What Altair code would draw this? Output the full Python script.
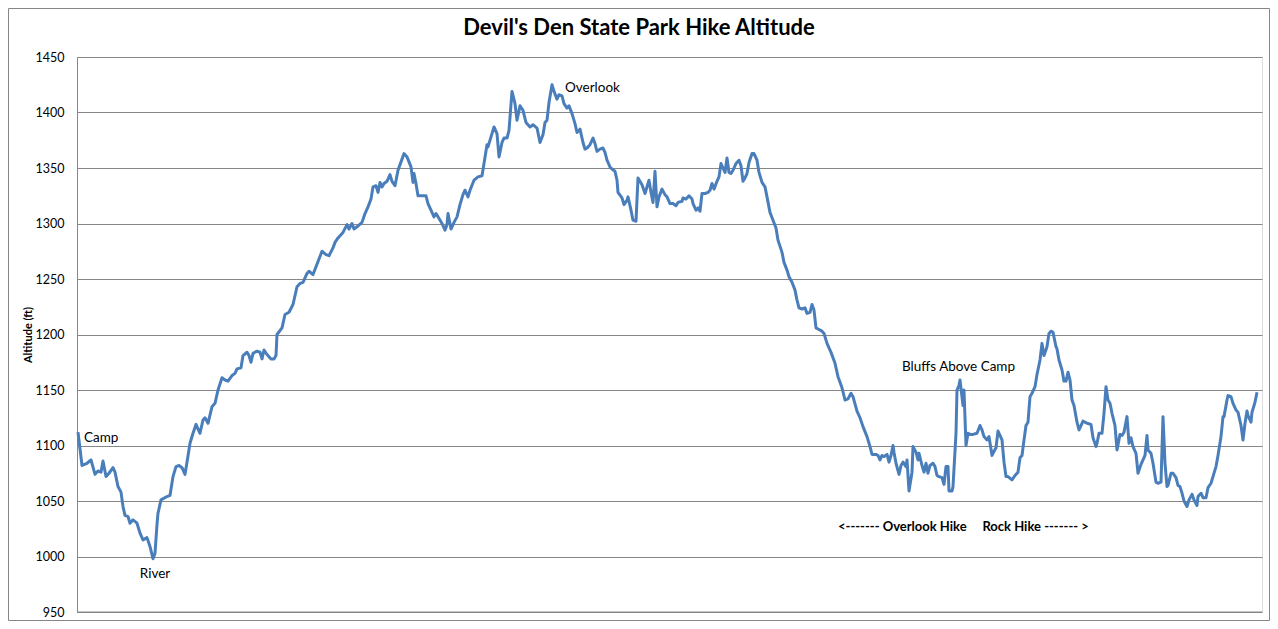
import altair as alt
import pandas as pd

# Distance along the trail (arbitrary units) and altitude (ft)
DIST = [0, 4, 9, 13, 17, 20, 23, 25, 28, 31, 35, 37, 40, 43, 45, 47, 50, 52, 55, 59, 62, 65, 69, 72, 75, 77, 79, 80, 83, 89, 92, 95, 98, 101, 104, 107, 109,
        112, 115, 118, 122, 125, 127, 130, 134, 137, 140, 144, 147, 150, 154, 157, 159, 163, 165, 169, 171, 173, 175, 179, 182, 184, 186, 189, 193, 196, 198, 199, 204, 207, 211, 215, 219, 222, 225, 229, 231, 235, 238, 241, 244, 248, 251, 255, 257, 260, 265, 269, 271, 274, 276, 279, 284, 287, 290, 293, 295, 298, 300, 302, 304, 306, 309, 312, 314, 317, 320, 324, 326, 329, 333, 335, 336, 338, 340, 345, 348, 350, 354, 356, 358, 360, 364, 367, 369, 370, 373, 376, 379, 382, 385, 387, 390, 392, 396, 400, 404, 406, 409, 410, 413, 416, 419, 421, 424, 426, 429, 431, 434, 437, 439, 442, 445, 448, 452, 455, 459, 462, 465, 467, 469, 471, 474, 476, 479, 481, 484, 486, 489, 491, 494, 497, 499, 502, 505, 507, 509, 512, 515, 517, 519, 522, 525, 527, 529, 532, 534, 537, 539, 540, 544, 546, 549, 550, 553, 555, 558, 560, 564, 567, 571, 573, 575, 577, 579, 581, 584, 587, 589, 592, 595, 598, 600, 604, 605, 608, 611, 614, 615, 618, 620, 622, 624, 627, 630, 632, 634, 636, 639, 641, 643, 645, 647, 649, 651, 653, 655, 658, 661, 663, 665, 667, 669, 671, 674, 676, 679, 681, 684, 687, 689, 692, 695, 698, 700, 704, 706, 709, 711, 714, 717, 719, 721, 724, 727, 729, 732, 734, 736, 738, 740, 744, 746, 749, 751, 753, 757, 760, 764, 767, 770, 773, 775, 779, 782, 785, 789, 792, 794, 798, 800, 802, 804, 806, 809, 811, 813, 815, 816, 818, 821, 823, 825, 828, 829, 831, 834, 835, 838, 840, 841, 844, 846, 848, 850, 852, 855, 857, 859, 861, 864, 866, 868, 870, 871, 874, 875, 878, 879, 881, 882, 885, 886, 888, 890, 892, 895, 899, 902, 904, 906, 909, 911, 914, 915, 918, 920, 924, 926, 928, 930, 934, 937, 940, 942, 944, 946, 948, 950, 952, 954, 957, 959, 962, 964, 966, 969, 971, 973, 975, 978, 979, 981, 984, 986, 988, 990, 992, 994, 996, 999, 1001, 1003, 1005, 1009, 1013, 1015, 1018, 1019, 1021, 1024, 1026, 1028, 1030, 1032, 1034, 1037, 1039, 1042, 1044, 1046, 1049, 1051, 1053, 1055, 1058, 1060, 1063, 1065, 1067, 1069, 1070, 1073, 1075, 1078, 1080, 1083, 1085, 1087, 1089, 1090, 1093, 1095, 1098, 1100, 1102, 1104, 1106, 1109, 1111, 1114, 1116, 1119, 1120, 1123, 1125, 1128, 1130, 1133, 1135, 1138, 1140, 1143, 1145, 1146, 1149, 1150, 1153, 1155, 1158, 1160, 1163, 1165, 1167, 1169, 1170, 1173, 1174, 1177, 1179, 1181]
ALT = [1112, 1082, 1084, 1087, 1074, 1077, 1076, 1086, 1072, 1075, 1080, 1076, 1063, 1058, 1045, 1037, 1036, 1030, 1033, 1030, 1021, 1015, 1017, 1009, 998, 1003, 1029, 1039, 1051, 1054, 1055, 1072, 1081, 1082, 1080, 1074, 1085,
       1102, 1111, 1119, 1111, 1123, 1125, 1120, 1135, 1138, 1150, 1161, 1159, 1158, 1163, 1165, 1169, 1170, 1181, 1184, 1181, 1175, 1183, 1185, 1184, 1178, 1186, 1182, 1178, 1178, 1181, 1200, 1206, 1218, 1220, 1227, 1243, 1246, 1247, 1255, 1257, 1254, 1261, 1268, 1275, 1272, 1271, 1278, 1283, 1287, 1292, 1299, 1295, 1300, 1295, 1297, 1301, 1309, 1315, 1322, 1333, 1334, 1328, 1337, 1333, 1336, 1338, 1344, 1338, 1334, 1348, 1358, 1363, 1360, 1351, 1337, 1345, 1336, 1325, 1325, 1325, 1318, 1310, 1306, 1309, 1306, 1300, 1294, 1299, 1309, 1295, 1301, 1306, 1317, 1326, 1330, 1324, 1330, 1339, 1342, 1343, 1354, 1371, 1369, 1378, 1387, 1381, 1360, 1373, 1377, 1377, 1384, 1419, 1408, 1393, 1406, 1402, 1391, 1387, 1389, 1386, 1373, 1380, 1391, 1393, 1409, 1425, 1419, 1412, 1416, 1415, 1408, 1404, 1406, 1399, 1390, 1382, 1385, 1373, 1367, 1368, 1371, 1377, 1372, 1365, 1367, 1368, 1364, 1357, 1351, 1349, 1347, 1339, 1328, 1323, 1317, 1321, 1324, 1312, 1303, 1302, 1341, 1335, 1327, 1339, 1328, 1319, 1347, 1315, 1324, 1331, 1326, 1324, 1318, 1318, 1316, 1319, 1320, 1323, 1322, 1325, 1322, 1318, 1312, 1314, 1311, 1327, 1327, 1328, 1330, 1336, 1331, 1338, 1342, 1354, 1350, 1346, 1359, 1346, 1345, 1348, 1354, 1357, 1352, 1338, 1341, 1345, 1355, 1363, 1363, 1357, 1346, 1337, 1333, 1324, 1310, 1303, 1296, 1285, 1274, 1265, 1258, 1252, 1247, 1240, 1231, 1224, 1223, 1224, 1219, 1220, 1227, 1222, 1206, 1205, 1203, 1201, 1192, 1188, 1184, 1174, 1162, 1152, 1141, 1142, 1147, 1144, 1131, 1125, 1117, 1108, 1099, 1092, 1092, 1091, 1087, 1091, 1090, 1092, 1085, 1091, 1100, 1094, 1084, 1074, 1082, 1085, 1081, 1087, 1059, 1076, 1099, 1094, 1087, 1093, 1082, 1076, 1084, 1075, 1082, 1084, 1081, 1073, 1072, 1071, 1065, 1081, 1081, 1059, 1059, 1063, 1111, 1150, 1154, 1159, 1136, 1150, 1100, 1111, 1110, 1110, 1111, 1118, 1114, 1108, 1105, 1108, 1091, 1093, 1098, 1113, 1105, 1085, 1072, 1072, 1069, 1073, 1076, 1089, 1091, 1105, 1118, 1121, 1144, 1147, 1153, 1164, 1177, 1192, 1181, 1189, 1201, 1203, 1202, 1189, 1187, 1177, 1168, 1158, 1158, 1166, 1159, 1141, 1136, 1121, 1114, 1118, 1122, 1120, 1119, 1107, 1099, 1102, 1111, 1111, 1129, 1153, 1141, 1138, 1129, 1118, 1096, 1110, 1109, 1112, 1126, 1102, 1107, 1099, 1093, 1075, 1083, 1087, 1091, 1109, 1096, 1093, 1084, 1067, 1066, 1067, 1126, 1084, 1063, 1064, 1075, 1075, 1071, 1064, 1063, 1057, 1050, 1045, 1051, 1056, 1051, 1046, 1054, 1057, 1053, 1053, 1062, 1066, 1072, 1081, 1091, 1108, 1126, 1126, 1141, 1145, 1144, 1138, 1132, 1130, 1118, 1105, 1120, 1131, 1127, 1121, 1130, 1139, 1148]

Y_TICKS = [950, 1000, 1050, 1100, 1150, 1200, 1250, 1300, 1350, 1400, 1450]

TITLE = "Devil's Den State Park Hike Altitude"

NOTE_TEXT = ["Camp", "Overlook", "Bluffs Above Camp"]
NOTE_X = [6, 487, 824]
NOTE_Y = [1107, 1422, 1171]

RIVER_TEXT = ["River"]
RIVER_X = [77]
RIVER_Y = [984]

NB = "\u00a0"
HIKE_TEXT = ["<-------" + NB + "Overlook" + NB + "Hike" + NB * 5 + "Rock" + NB + "Hike" + NB + "-------" + NB + ">"]
HIKE_X = [760]
HIKE_Y = [1027]

FONT = "Lato"
GRID = "#868686"
LINE = "#4a7ebb"

n = min(len(DIST), len(ALT))
df = pd.DataFrame({"dist": DIST[:n], "alt": ALT[:n]})
notes = pd.DataFrame({"label": NOTE_TEXT, "dist": NOTE_X, "alt": NOTE_Y})
river = pd.DataFrame({"label": RIVER_TEXT, "dist": RIVER_X, "alt": RIVER_Y})
hike = pd.DataFrame({"label": HIKE_TEXT, "dist": HIKE_X, "alt": HIKE_Y})
title_df = pd.DataFrame({"label": [TITLE]})

W, H = 1185, 555
PAD = {"left": 69, "top": 49, "right": 8, "bottom": 9}

xs = alt.Scale(domain=[-1, 1184], nice=False, zero=False)
ys = alt.Scale(domain=[950, 1450], nice=False, zero=False)

line = alt.Chart(df).mark_line(color=LINE, strokeWidth=3, strokeJoin="round").encode(
    x=alt.X("dist:Q", scale=xs, axis=None),
    y=alt.Y("alt:Q", scale=ys, axis=alt.Axis(
        values=Y_TICKS, format="d", title="Altitude (ft)", grid=True, gridColor=GRID, gridWidth=1,
        domainColor=GRID, domainWidth=1, ticks=False, labelPadding=13,
        labelFont=FONT, labelFontSize=12.5, labelColor="#000000",
        titleFont=FONT, titleFontSize=11, titleFontWeight="bold", titleColor="#000000",
        titleX=-49, titleY=H / 2, titleAngle=-90, titleAlign="center", titleBaseline="middle")),
)

bottom = alt.Chart(pd.DataFrame({"a": [950]})).mark_rule(color=GRID, strokeWidth=1).encode(
    y=alt.Y("a:Q", scale=ys), x=alt.value(0), x2=alt.value(W))

note_marks = alt.Chart(notes).mark_text(align="left", baseline="middle", font=FONT, fontSize=13.5, color="#000000").encode(
    x=alt.X("dist:Q", scale=xs), y=alt.Y("alt:Q", scale=ys), text="label:N")

river_mark = alt.Chart(river).mark_text(align="center", baseline="middle", font=FONT, fontSize=13.5, color="#000000").encode(
    x=alt.X("dist:Q", scale=xs), y=alt.Y("alt:Q", scale=ys), text="label:N")

hike_mark = alt.Chart(hike).mark_text(align="left", baseline="middle", font=FONT, fontSize=13, fontWeight="bold", color="#000000").encode(
    x=alt.X("dist:Q", scale=xs), y=alt.Y("alt:Q", scale=ys), text="label:N")

title_mark = alt.Chart(title_df).mark_text(align="center", baseline="middle", font=FONT, fontSize=22, fontWeight="bold", color="#000000").encode(
    x=alt.value(562), y=alt.value(-29), text="label:N")

border = alt.Chart(pd.DataFrame({"b": [0]})).mark_rect(fill=None, stroke=GRID, strokeWidth=1).encode(
    x=alt.value(-PAD["left"] + 0.5), x2=alt.value(W + PAD["right"] - 0.5),
    y=alt.value(-PAD["top"] + 0.5), y2=alt.value(H + PAD["bottom"] - 0.5))

chart = alt.layer(border, bottom, line, note_marks, river_mark, hike_mark, title_mark).properties(
    width=W, height=H, autosize="none", padding=PAD,
).configure_view(stroke=None).configure(background="#ffffff")

chart.save("out.html", embed_options={"renderer": "svg", "actions": False})
